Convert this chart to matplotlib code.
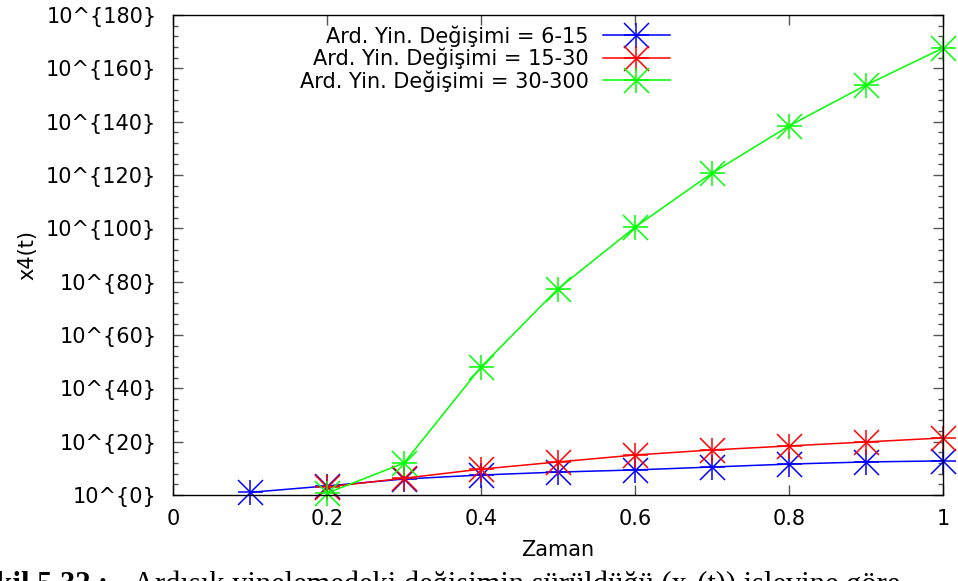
import matplotlib
matplotlib.use("Agg")
import matplotlib.pyplot as plt
from matplotlib.legend_handler import HandlerTuple
from matplotlib.ticker import FuncFormatter, MultipleLocator

# x4(t) exponents (log10) per iteration-change range
zaman_a = [0.1, 0.2, 0.3, 0.4, 0.5, 0.6, 0.7, 0.8, 0.9, 1.0]
zaman_b = [0.2, 0.3, 0.4, 0.5, 0.6, 0.7, 0.8, 0.9, 1.0]
exp_6_15 = [1.0, 3.4, 6.0, 7.5, 8.6, 9.4, 10.5, 11.6, 12.4, 12.8]
exp_15_30 = [3.0, 6.3, 9.7, 12.4, 15.0, 16.9, 18.4, 19.9, 21.4]
exp_30_300 = [0.7, 12.0, 48.0, 77.3, 100.4, 120.7, 138.4, 153.7, 167.6]

series = [
    ("Ard. Yin. Değişimi = 6-15", zaman_a, exp_6_15, "#0000ff"),
    ("Ard. Yin. Değişimi = 15-30", zaman_b, exp_15_30, "#ff0000"),
    ("Ard. Yin. Değişimi = 30-300", zaman_b, exp_30_300, "#00ff00"),
]

plt.rcParams["font.family"] = ["DejaVu Sans"]
plt.rcParams["font.size"] = 15

fig = plt.figure(figsize=(9.58, 5.81), dpi=100)
ax = fig.add_axes([0.1806, 0.148, 0.8037, 0.8262])

handles = []
for label, xs, ys, color in series:
    # gnuplot-style asterisk: '+' and 'x' drawn over each other
    (ln,) = ax.plot(xs, ys, color=color, lw=1.1, marker="+", ms=18, mew=1.1,
                    clip_on=False)
    (mk,) = ax.plot(xs, ys, color=color, lw=0, marker="x", ms=18, mew=1.1,
                    clip_on=False)
    handles.append(((ln, mk), label))

ax.set_xlim(0, 1)
ax.set_ylim(0, 180)
ax.xaxis.set_major_locator(MultipleLocator(0.2))
ax.xaxis.set_major_formatter(FuncFormatter(lambda v, _: f"{v:g}"))
ax.yaxis.set_major_locator(MultipleLocator(20))
ax.yaxis.set_minor_locator(MultipleLocator(4))
ax.yaxis.set_major_formatter(FuncFormatter(lambda v, _: "10^{%d}" % round(v)))

ax.tick_params(which="both", direction="in", top=True, right=True,
               color="#555555", width=1.0)
ax.tick_params(which="major", length=7)
ax.tick_params(which="minor", length=3.6)
ax.tick_params(axis="y", pad=12)
ax.tick_params(axis="x", pad=10)
for sp in ax.spines.values():
    sp.set_linewidth(1.0)

ax.set_xlabel("Zaman", labelpad=8)
ax.set_ylabel("x4(t)", labelpad=6)

ax.legend([h for h, _ in handles], [l for _, l in handles],
          handler_map={tuple: HandlerTuple(ndivide=1)},
          loc="upper right", bbox_to_anchor=(0.645, 0.979),
          markerfirst=False, frameon=False, borderpad=0, borderaxespad=0,
          handlelength=3.2, handletextpad=0.7, labelspacing=0.05)

# caption line of the page, cut off at the bottom edge
fig.text(108 / 958, -0.021, "Şekil 5.32 :", ha="right", va="baseline",
         family="Liberation Serif", weight="bold", size=22)
fig.text(133 / 958, -0.021,
         "Ardışık yinelemedeki değişimin sürüldüğü (x\u2084(t)) işlevine göre",
         ha="left", va="baseline", family="Liberation Serif", size=22)

fig.savefig("out.png", dpi=100)
